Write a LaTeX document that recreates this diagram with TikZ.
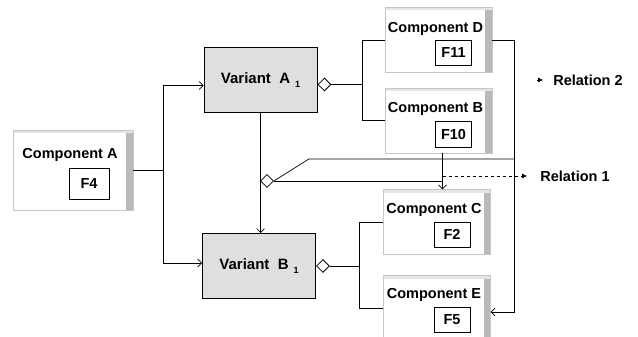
\documentclass[tikz,border=0pt]{standalone}
\usepackage{fontspec}
\setmainfont{Liberation Sans}
\usetikzlibrary{shapes, arrows, arrows.meta, positioning}

\begin{document}
\begin{tikzpicture}[x=1pt, y=-1pt, >={Straight Barb[length=4pt, width=8pt]}]
    \tikzstyle{comp} = [rectangle, draw=gray!45, fill=white, minimum width=107pt, minimum height=65pt,
        path picture={\fill[gray!55] ([xshift=-7pt]path picture bounding box.north east) rectangle (path picture bounding box.south east);
                      \fill[gray!20] (path picture bounding box.north west) rectangle ([yshift=-3pt]path picture bounding box.north east);}]
    \tikzstyle{title} = [inner sep=0pt, font=\bfseries\fontsize{14.5}{16}\selectfont]
    \tikzstyle{fbox} = [rectangle, draw, line width=1pt, fill=white, minimum width=36pt, minimum height=25pt, inner sep=0pt, font=\bfseries\fontsize{14.5}{16}\selectfont]
    \tikzstyle{variant} = [rectangle, draw, line width=1pt, fill=gray!25, minimum width=113pt, minimum height=65pt, font=\bfseries\fontsize{15}{16}\selectfont]
    \tikzstyle{agg} = [diamond, draw, fill=white, inner sep=0pt, minimum width=13pt, minimum height=13pt, line width=0.8pt]
    \tikzstyle{line} = [draw, line width=0.7pt]

    \useasboundingbox (0,0) rectangle (638,337);

    % components
    \node [comp, minimum width=120pt, minimum height=80pt] (compA) at (73,170) {};
    \node [title] (tA) at ([shift={(-3,-15)}]compA.center) {Component A};
    \node [fbox, minimum width=40pt, minimum height=31pt] (fA) at ([shift={(16,13.5)}]compA.center) {F4};

    \node [comp] (compD) at (438.5,40) {};
    \node [title] (tD) at ([shift={(-3,-11)}]compD.center) {Component D};
    \node [fbox] (fD) at ([shift={(15,13)}]compD.center) {F11};

    \node [comp] (compB) at (438.5,120.5) {};
    \node [title] (tB) at ([shift={(-3,-12)}]compB.center) {Component B};
    \node [fbox] (fB) at ([shift={(15,14)}]compB.center) {F10};

    \node [comp] (compC) at (437,222) {};
    \node [title] (tC) at ([shift={(-3,-12)}]compC.center) {Component C};
    \node [fbox] (fC) at ([shift={(15,12.5)}]compC.center) {F2};

    \node [comp] (compE) at (437,308) {};
    \node [title] (tE) at ([shift={(-3,-13)}]compE.center) {Component E};
    \node [fbox] (fE) at ([shift={(15,11.5)}]compE.center) {F5};

    % variants
    \node [variant] (varA) at (260.5,80.5) {Variant~~A\,\,\raisebox{-0.5ex}{\fontsize{9}{10}\selectfont 1}};
    \node [variant] (varB) at (259,266) {Variant~~B\,\,\raisebox{-0.5ex}{\fontsize{9}{10}\selectfont 1}};

    \node [agg, anchor=west] (dA) at ([yshift=-4pt]varA.east) {};
    \node [agg, anchor=west] (dB) at (varB.east) {};
    \node [agg] (dM) at (267,181) {};

    % relations
    \node [title] (rel2) at (588,80) {Relation 2};
    \node [title] (rel1) at (575,176) {Relation 1};

    \draw [line] (compA.east) -- ++(30,0) coordinate (sA);
    \draw [line, ->] (sA) |- ([yshift=-5pt]varA.west);
    \draw [line, ->] (sA) |- ([yshift=3pt]varB.west);
    \draw [line, ->] (varA.south) -- (varA.south |- varB.north);

    \draw [line] (dA.east) -- ++(31,0) coordinate (sD);
    \draw [line] (sD) |- (compD.west);
    \draw [line] (sD) |- (compB.west);

    \draw [line] (dB.east) -- ++(30,0) coordinate (sC);
    \draw [line] (sC) |- (compC.west);
    \draw [line] (sC) |- (compE.west);

    \draw [line, ->] (compD.east) -- ++(22,0) coordinate (sR) |- ([yshift=-4pt]compE.east);
    \draw [line] (dM.east) -- ++(35,-22) coordinate (kink) -- (kink -| sR);

    \coordinate (jC) at ([xshift=4pt]compB.south);
    \draw [line, ->] (jC) -- (jC |- compC.north);
    \draw [line] (dM.east) -- (dM.east -| jC);

    \draw [line, dashed, -{Latex[length=5pt, width=5pt]}] (jC |- rel1) -- ([xshift=-13pt]rel1.west);
    \draw [line width=0.6pt, -{Latex[length=5pt, width=5pt]}] ([xshift=-16pt]rel2.west) -- ([xshift=-10pt]rel2.west);
\end{tikzpicture}
\end{document}
